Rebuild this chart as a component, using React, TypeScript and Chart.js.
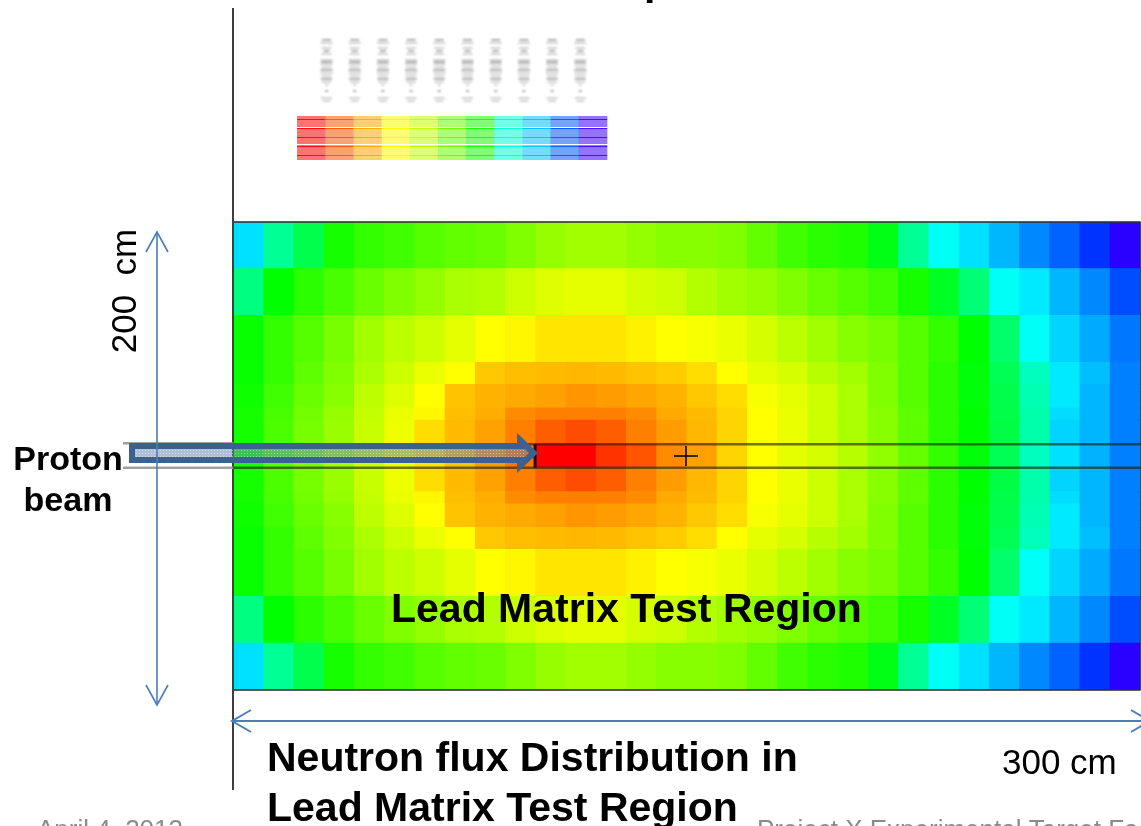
import React, { useEffect, useRef } from "react";
import { Chart, registerables } from "chart.js";

Chart.register(...registerables);

// Column centres along the 300 cm region (cm)
const columnLabels = Array.from({ length: 30 }, (_, i) => String(5 + i * 10));

// Row edges, in cm from the bottom of the 200 cm region
const rowEdges = [0, 20, 40, 60, 69.4, 79.5, 84.7, 95, 105, 115.3, 120.5, 130.6, 140, 160, 180, 200];

// Flux level per cell (0 = lowest / violet, 250 = highest / red), top half of the symmetric mesh
const flux0 = [63, 95, 112, 135, 142, 145, 150, 153, 155, 160, 165, 168, 168, 165, 162, 162, 160, 153, 145, 140, 137, 125, 95, 72, 63, 53, 42, 33, 22, 0];
const flux1 = [100, 130, 140, 147, 155, 160, 165, 170, 172, 178, 182, 184, 184, 180, 178, 172, 168, 165, 160, 155, 150, 145, 135, 122, 102, 72, 65, 53, 42, 28];
const flux2 = [132, 142, 150, 158, 168, 174, 178, 184, 190, 192, 196, 196, 196, 193, 190, 188, 185, 180, 174, 168, 162, 158, 150, 142, 130, 105, 72, 60, 50, 38];
const flux3 = [132, 142, 152, 160, 170, 178, 185, 190, 203, 205, 206, 207, 206, 204, 202, 198, 190, 184, 180, 173, 168, 160, 150, 140, 128, 110, 85, 65, 55, 40];
const flux4 = [133, 145, 155, 162, 174, 182, 190, 204, 208, 210, 212, 215, 213, 211, 208, 203, 198, 188, 184, 178, 170, 160, 150, 140, 128, 112, 88, 65, 53, 40];
const flux5 = [135, 147, 157, 165, 176, 185, 192, 205, 209, 217, 220, 220, 220, 217, 210, 206, 200, 190, 185, 178, 170, 162, 152, 140, 130, 113, 90, 62, 53, 40];
const flux6 = [135, 148, 158, 166, 177, 186, 198, 206, 212, 220, 228, 232, 228, 220, 213, 207, 200, 190, 185, 178, 170, 162, 152, 140, 130, 114, 90, 60, 53, 40];
const flux7 = [135, 150, 158, 168, 178, 186, 196, 204, 214, 222, 250, 250, 238, 230, 217, 212, 200, 190, 184, 180, 173, 164, 154, 142, 128, 110, 85, 63, 52, 40];

// Rows listed bottom to top, matching rowEdges
const fluxRows = [flux0, flux1, flux2, flux3, flux4, flux5, flux6, flux7, flux6, flux5, flux4, flux3, flux2, flux1, flux0];

// Legend strip levels
const legendLevels = [250, 230, 210, 192, 175, 155, 135, 80, 55, 30, -5];

const fluxColor = (v: number, a = 1) => `hsla(${250 - v},100%,50%,${a})`;

const INK = "#000";
const ARROW = "#4a7ebb";
const BEAM = "#3b6191";
const GREY = "#8b8b8b";

const chevronLine = (c: CanvasRenderingContext2D, pts: number[][]) => {
  c.beginPath();
  pts.forEach(([x, y], i) => (i ? c.lineTo(x, y) : c.moveTo(x, y)));
  c.stroke();
};

const overlay = {
  id: "overlay",
  beforeDatasetsDraw(chart: any) {
    const c: CanvasRenderingContext2D = chart.ctx;
    c.save();
    // legend strip
    const n = legendLevels.length;
    const lx = 297, lw = 310 / n;
    c.filter = "blur(0.6px)";
    legendLevels.forEach((v, i) => {
      for (let y = 116; y < 160; y++) {
        const k = y - 116;
        const white = k === 11 || k === 28;
        const strong = k % 9 === 3;
        c.fillStyle = white ? "rgba(255,255,255,0.85)" : fluxColor(v, strong ? 0.95 : 0.55);
        c.fillRect(lx + i * lw, y, lw + 0.3, 1);
      }
    });
    // illegible legend labels: blurred grey marks
    c.filter = "blur(0.8px)";
    const marks = [0, 3, 8, 11, 14, 20, 22, 24, 27, 30, 33, 36, 39, 42, 45, 51, 58, 61];
    const widths = [9, 12, 10, 6, 10, 12, 11, 12, 10, 12, 12, 10, 11, 9, 3, 3, 11, 8];
    for (let i = 0; i < 10; i++) {
      const x = 326.5 + i * 28.2;
      marks.forEach((m, j) => {
        c.fillStyle = j % 3 === 0 ? "rgba(90,90,90,0.5)" : "rgba(130,130,130,0.36)";
        c.fillRect(x - widths[j] / 2, 39 + m, widths[j], 2);
      });
    }
    c.filter = "none";
    c.restore();
  },
  afterDatasetsDraw(chart: any) {
    const c: CanvasRenderingContext2D = chart.ctx;
    const { y } = chart.scales;
    const left = chart.chartArea.left;
    const right = chart.chartArea.right;
    const top = y.getPixelForValue(200);
    const bottom = y.getPixelForValue(0);
    const beamTop = y.getPixelForValue(105);
    const beamBot = y.getPixelForValue(95);
    c.save();

    // frame of the region
    c.strokeStyle = "rgba(50,50,50,0.8)";
    c.lineWidth = 2;
    chevronLine(c, [[left, top], [right, top]]);
    chevronLine(c, [[left, bottom], [right, bottom]]);
    c.lineWidth = 1;
    chevronLine(c, [[right, top], [right, bottom]]);

    // long vertical axis line
    c.strokeStyle = "#3f3f3f";
    c.lineWidth = 2;
    chevronLine(c, [[233, 8], [233, 790]]);

    // beam channel
    c.strokeStyle = "rgba(150,150,150,0.9)";
    c.lineWidth = 2.5;
    chevronLine(c, [[123, beamTop - 1], [left, beamTop - 1]]);
    chevronLine(c, [[123, beamBot], [left, beamBot]]);
    c.strokeStyle = "rgba(30,30,0,0.62)";
    c.lineWidth = 2.5;
    chevronLine(c, [[left, beamTop], [right, beamTop]]);
    chevronLine(c, [[left, beamBot], [right, beamBot]]);
    c.strokeStyle = "rgba(0,0,0,0.85)";
    c.lineWidth = 3;
    chevronLine(c, [[535, beamTop], [535, beamBot]]);
    c.lineWidth = 1.8;
    chevronLine(c, [[674, 456], [698, 456]]);
    chevronLine(c, [[686, 446], [686, 466]]);

    // proton beam arrow, with an open dotted centre
    const path = new Path2D();
    path.moveTo(129, 443);
    path.lineTo(517, 443);
    path.lineTo(517, 433);
    path.lineTo(538, 453);
    path.lineTo(517, 473);
    path.lineTo(517, 463);
    path.lineTo(129, 463);
    path.closePath();
    path.moveTo(135, 449);
    path.lineTo(524, 449);
    path.lineTo(529, 453);
    path.lineTo(524, 457);
    path.lineTo(135, 457);
    path.closePath();
    c.fillStyle = BEAM;
    c.fill(path, "evenodd");
    c.fillStyle = "rgba(100,130,180,0.5)";
    c.fillRect(135, 449, 392, 8);
    c.fillStyle = "rgba(255,255,255,0.4)";
    for (let px = 136; px < 525; px += 3) {
      for (let py = 450; py < 457; py += 3) c.fillRect(px, py, 1, 1);
    }

    // blue dimension arrows
    c.strokeStyle = ARROW;
    c.lineWidth = 1.6;
    chevronLine(c, [[157, 232], [157, 705]]);
    chevronLine(c, [[146, 252], [157, 232], [168, 252]]);
    chevronLine(c, [[146, 685], [157, 705], [168, 685]]);
    c.lineWidth = 2;
    chevronLine(c, [[232, 721], [1150, 721]]);
    chevronLine(c, [[251, 710], [232, 721], [251, 732]]);
    chevronLine(c, [[1131, 710], [1150, 721], [1131, 732]]);

    // text
    c.fillStyle = INK;
    c.textBaseline = "alphabetic";
    c.textAlign = "left";
    c.font = 'bold 41px "Liberation Sans"';
    c.fillText("p", 644, -5.5);
    c.fillText("Neutron flux Distribution in", 267, 771);
    c.fillText("Lead Matrix Test Region", 267, 821);
    c.fillText("Lead Matrix Test Region", 391, 622);
    c.font = '35px "Liberation Sans"';
    c.fillText("300 cm", 1002, 774);
    c.textAlign = "center";
    c.font = 'bold 34px "Liberation Sans"';
    c.fillText("Proton", 68, 470);
    c.fillText("beam", 68, 511);
    c.save();
    c.translate(136, 291);
    c.rotate(-Math.PI / 2);
    c.font = '35px "Liberation Sans"';
    c.fillText("200  cm", 0, 0);
    c.restore();
    c.textAlign = "left";
    c.fillStyle = GREY;
    c.font = '26px "Liberation Sans"';
    c.fillText("April 4, 2013", 37, 838);
    c.fillText("Project X Experimental Target Facility", 757, 838);
    c.restore();
  },
};

export default function App() {
  const ref = useRef<HTMLCanvasElement>(null);
  useEffect(() => {
    document.body.style.margin = "0";
    const chart = new Chart(ref.current!, {
      type: "bar",
      data: {
        labels: columnLabels,
        datasets: fluxRows.map((row, r) => ({
          label: `row ${r}`,
          data: row.map(() => [rowEdges[r], rowEdges[r + 1]]) as any,
          backgroundColor: row.map((v) => fluxColor(v)),
          borderWidth: 0,
          inflateAmount: 0.5,
          grouped: false,
          categoryPercentage: 1,
          barPercentage: 1,
        })),
      },
      options: {
        responsive: false,
        animation: false,
        events: [],
        layout: { padding: { left: 233.5, right: 0.5, top: 222, bottom: 136 } },
        plugins: { legend: { display: false }, tooltip: { enabled: false }, title: { display: false } },
        scales: {
          x: { type: "category", display: false, offset: true, grid: { display: false } },
          y: { type: "linear", display: false, min: 0, max: 200, grid: { display: false } },
        },
      },
      plugins: [overlay],
    } as any);
    return () => chart.destroy();
  }, []);
  return (
    <div style={{ width: 1141, height: 826, overflow: "hidden", background: "#fff" }}>
      <canvas ref={ref} width={1141} height={826} style={{ display: "block", width: 1141, height: 826, filter: "blur(0.5px)" }} />
    </div>
  );
}
